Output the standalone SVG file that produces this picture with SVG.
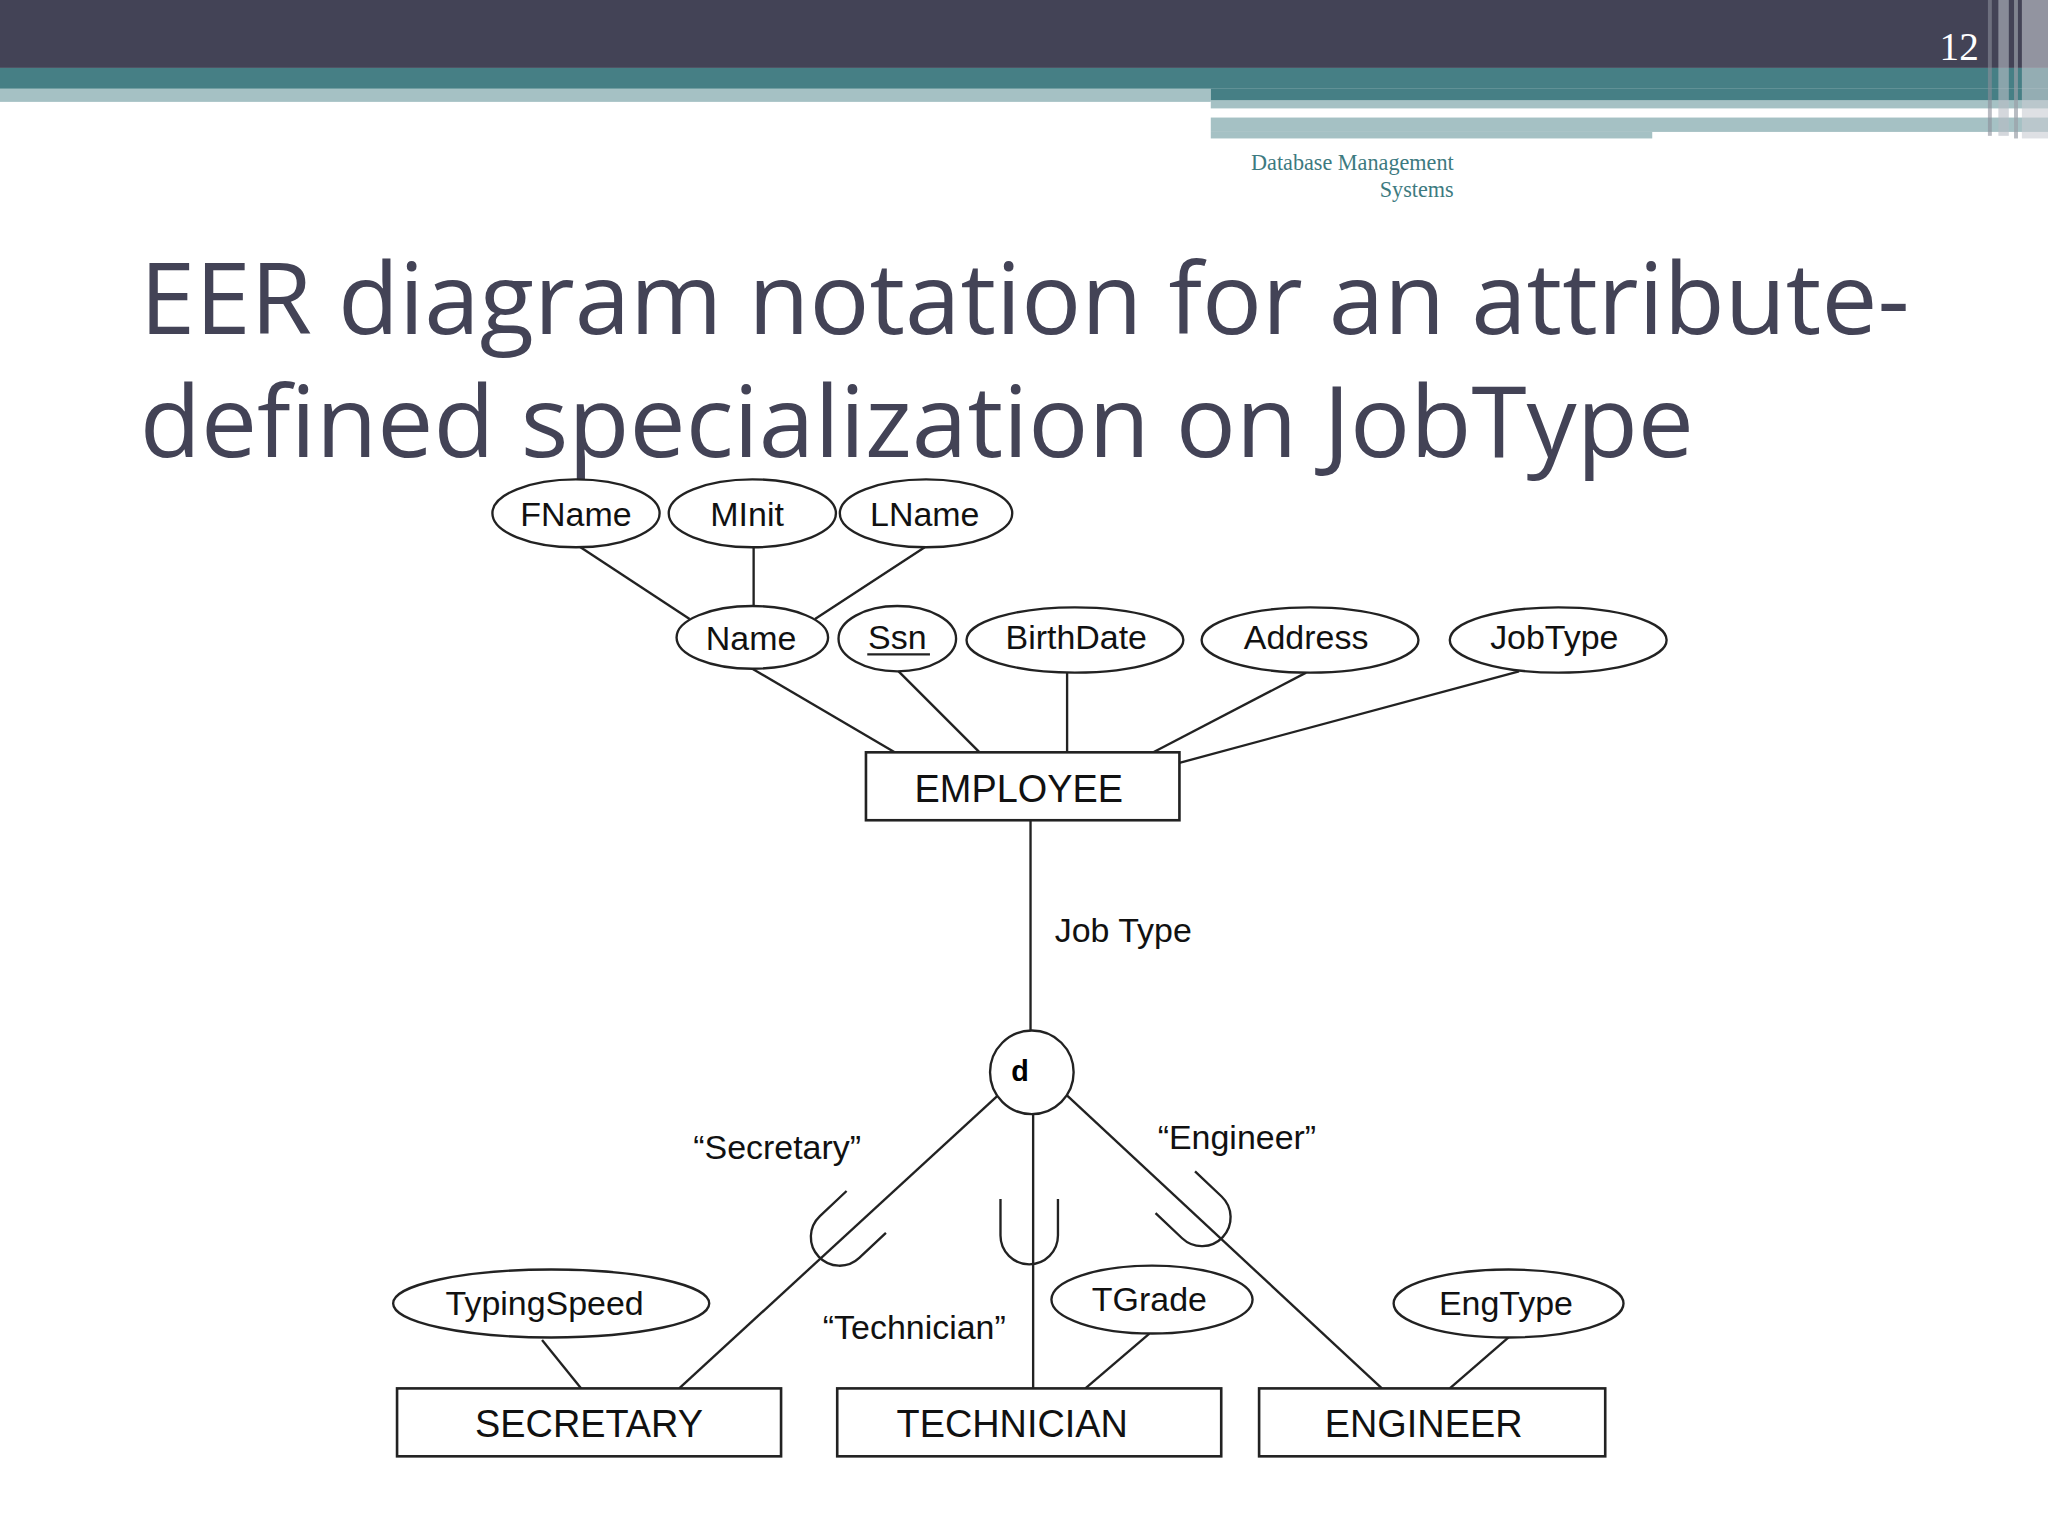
<svg xmlns="http://www.w3.org/2000/svg" width="2048" height="1536" viewBox="0 0 2048 1536">
<style>
.e{fill:#fff;stroke:#222;stroke-width:1.8}
.r{fill:#fff;stroke:#222;stroke-width:2}
.l{stroke:#222;stroke-width:1.8;fill:none}
.t{font-family:"Liberation Sans",Arial,sans-serif;font-size:26px;fill:#111;text-anchor:middle}
.big{font-size:29px}
.ttl{font-family:"Open Sans","DejaVu Sans",sans-serif;font-size:76px;fill:#434356}
</style>
<defs><path id="u" d="M-22,-25 V3 A22,22 0 0 0 22,3 V-25" class="l"/></defs>
<rect width="2048" height="1536" fill="#fff"/>
<g transform="scale(1.30612)">
<g id="header">
<rect x="0" y="0" width="1568" height="52" fill="#434356"/>
<rect x="0" y="52" width="1568" height="16" fill="#467f85"/>
<rect x="0" y="68" width="927" height="10" fill="#a5c1c4"/>
<rect x="927" y="68" width="641" height="9" fill="#467f85"/>
<rect x="927" y="77" width="641" height="6" fill="#a5c1c4"/>
<rect x="927" y="90" width="641" height="11" fill="#a5c1c4"/>
<rect x="927" y="101" width="338" height="5" fill="#a5c1c4"/>
<rect x="1265" y="85" width="187" height="4" fill="#fff"/>
<rect x="1522" y="0" width="3" height="104" fill="#8a8d99" opacity="0.6"/>
<rect x="1530" y="0" width="8" height="104" fill="#b8bcc4" opacity="0.6"/>
<rect x="1542" y="0" width="3" height="106" fill="#9aa0a8" opacity="0.7"/>
<rect x="1548" y="0" width="20" height="106" fill="#c8ccd2" opacity="0.6"/>
<text x="1515" y="46" font-family="Liberation Serif,serif" font-size="30" fill="#fff" text-anchor="end">12</text>
<text x="1113" y="130" font-family="Liberation Serif,serif" font-size="17" fill="#3d7a80" text-anchor="end">Database Management</text>
<text x="1113" y="151" font-family="Liberation Serif,serif" font-size="17" fill="#3d7a80" text-anchor="end">Systems</text>
</g>
<text class="ttl" x="107" y="256" textLength="1355" lengthAdjust="spacingAndGlyphs">EER diagram notation for an attribute-</text>
<text class="ttl" x="107" y="350" textLength="1190" lengthAdjust="spacingAndGlyphs">defined specialization on JobType</text>

<g id="connectors">
<line class="l" x1="443" y1="418" x2="528" y2="474"/>
<line class="l" x1="577" y1="419" x2="577" y2="464"/>
<line class="l" x1="708" y1="419" x2="624" y2="474"/>
<line class="l" x1="576" y1="512" x2="685" y2="576"/>
<line class="l" x1="688" y1="514" x2="750" y2="576"/>
<line class="l" x1="817" y1="515" x2="817" y2="576"/>
<line class="l" x1="1000" y1="515" x2="883" y2="576"/>
<line class="l" x1="1163" y1="514" x2="903" y2="584"/>
<line class="l" x1="789" y1="628" x2="789" y2="789"/>
<line class="l" x1="767" y1="836" x2="520" y2="1063"/>
<line class="l" x1="791" y1="853" x2="791" y2="1063"/>
<line class="l" x1="814" y1="836" x2="1058" y2="1063"/>
<line class="l" x1="415" y1="1026" x2="445" y2="1063"/>
<line class="l" x1="880" y1="1021" x2="831" y2="1063"/>
<line class="l" x1="1155" y1="1024" x2="1110" y2="1063"/>
<use href="#u" transform="translate(645,945) rotate(46.8)"/>
<use href="#u" transform="translate(788,943)"/>
<use href="#u" transform="translate(918,930) rotate(-46.6)"/>
</g>

<g id="FName"><ellipse class="e" cx="441" cy="393" rx="64" ry="26"/><text class="t" x="441" y="403">FName</text></g>
<g id="MInit"><ellipse class="e" cx="576" cy="393" rx="64" ry="26"/><text class="t" x="572" y="403">MInit</text></g>
<g id="LName"><ellipse class="e" cx="709" cy="393" rx="66" ry="26"/><text class="t" x="708" y="403">LName</text></g>
<g id="Name"><ellipse class="e" cx="576" cy="488" rx="58" ry="24"/><text class="t" x="575" y="498">Name</text></g>
<g id="Ssn"><ellipse class="e" cx="687" cy="489" rx="45" ry="25"/><text class="t" x="687" y="497">Ssn</text><line class="l" x1="664" y1="501" x2="712" y2="501"/></g>
<g id="BirthDate"><ellipse class="e" cx="823" cy="490" rx="83" ry="25"/><text class="t" x="824" y="497">BirthDate</text></g>
<g id="Address"><ellipse class="e" cx="1003" cy="490" rx="83" ry="25"/><text class="t" x="1000" y="497">Address</text></g>
<g id="JobType"><ellipse class="e" cx="1193" cy="490" rx="83" ry="25"/><text class="t" x="1190" y="497">JobType</text></g>
<g id="EMPLOYEE"><rect class="r" x="663" y="576" width="240" height="52"/><text class="t big" x="780" y="614">EMPLOYEE</text></g>
<text class="t" x="860" y="721">Job Type</text>
<g id="d"><circle class="e" cx="790" cy="821" r="32"/><text x="781" y="828" font-family="Liberation Sans,Arial,sans-serif" font-size="22" font-weight="bold" text-anchor="middle">d</text></g>
<text class="t" x="595" y="887">“Secretary”</text>
<text class="t" x="947" y="880">“Engineer”</text>
<text class="t" x="700" y="1025">“Technician”</text>
<g id="TypingSpeed"><ellipse class="e" cx="422" cy="998" rx="121" ry="26"/><text class="t" x="417" y="1007">TypingSpeed</text></g>
<g id="TGrade"><ellipse class="e" cx="882" cy="995" rx="77" ry="26"/><text class="t" x="880" y="1004">TGrade</text></g>
<g id="EngType"><ellipse class="e" cx="1155" cy="998" rx="88" ry="26"/><text class="t" x="1153" y="1007">EngType</text></g>
<g id="SECRETARY"><rect class="r" x="304" y="1063" width="294" height="52"/><text class="t big" x="451" y="1100">SECRETARY</text></g>
<g id="TECHNICIAN"><rect class="r" x="641" y="1063" width="294" height="52"/><text class="t big" x="775" y="1100">TECHNICIAN</text></g>
<g id="ENGINEER"><rect class="r" x="964" y="1063" width="265" height="52"/><text class="t big" x="1090" y="1100">ENGINEER</text></g>
</g>
</svg>
